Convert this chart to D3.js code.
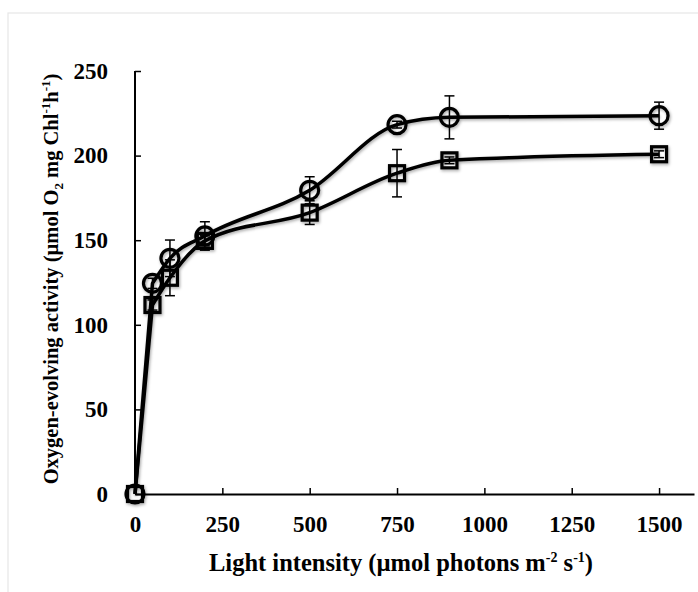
<!DOCTYPE html>
<html><head><meta charset="utf-8">
<script src="https://cdn.jsdelivr.net/npm/d3@7"></script>
<style>body{margin:0;background:#fff}svg{display:block}</style>
</head><body>
<svg id="chart" width="698" height="592"></svg>
<script>
const xValues = [0, 50, 100, 200, 500, 750, 900, 1500];
const circleValues = [0, 124.5, 139.3, 152.5, 179.5, 218.3, 222.6, 223.6];
const circleErrors = [0, 3, 10.8, 8.4, 8, 2, 12.7, 8];
const squareValues = [0, 111.7, 127.8, 149.6, 166.3, 189.6, 197.2, 200.8];
const squareErrors = [0, 3, 10.6, 3, 7, 14, 2, 2];
const xTicks = [0, 250, 500, 750, 1000, 1250, 1500];
const yTicks = [0, 50, 100, 150, 200, 250];

const svg = d3.select("#chart");
const font = "'Liberation Serif','Times New Roman',serif";

svg.append("rect").attr("x", 8).attr("y", 13).attr("width", 720).attr("height", 600)
  .attr("fill", "#fff").attr("stroke", "#e6e6e6").attr("stroke-width", 1.2);

const defs = svg.append("defs");
const f = defs.append("filter").attr("id", "sh").attr("x", "-20%").attr("y", "-20%").attr("width", "140%").attr("height", "140%");
f.append("feDropShadow").attr("dx", 1).attr("dy", 1.5).attr("stdDeviation", 1.5).attr("flood-color", "#000").attr("flood-opacity", 0.35);

const x = d3.scaleLinear().domain([0, 1600]).range([135, 694]);
const y = d3.scaleLinear().domain([0, 250]).range([494, 71]);

// axes
const gx = svg.append("g").attr("transform", `translate(0,${y(0)})`)
  .call(d3.axisBottom(x).tickValues(xTicks).tickFormat(d3.format("d")).tickSize(-6).tickPadding(22).tickSizeOuter(0));
const gy = svg.append("g").attr("transform", `translate(${x(0)},0)`)
  .call(d3.axisLeft(y).tickValues(yTicks).tickFormat(d3.format("d")).tickSize(-6).tickPadding(27).tickSizeOuter(0));
[gx, gy].forEach(g => {
  g.select(".domain").attr("stroke", "#000").attr("stroke-width", 2);
  g.selectAll(".tick line").attr("stroke", "#000").attr("stroke-width", 1.5);
  g.selectAll(".tick text").attr("font-family", font).attr("font-weight", "bold")
    .attr("font-size", 23).attr("fill", "#000");
});
gy.select(".domain").attr("d", `M0,${y(250)}V${y(0)}`);

// titles
const xt = svg.append("text").attr("x", 401).attr("y", 571).attr("text-anchor", "middle")
  .attr("font-family", font).attr("font-weight", "bold").attr("font-size", 24.5).attr("fill", "#000");
xt.append("tspan").text("Light intensity (µmol photons m");
xt.append("tspan").attr("font-size", 14).attr("dy", -9).text("-2");
xt.append("tspan").attr("dy", 9).text(" s");
xt.append("tspan").attr("font-size", 14).attr("dy", -9).text("-1");
xt.append("tspan").attr("dy", 9).text(")");

const yt = svg.append("text").attr("transform", "translate(58,279) rotate(-90)").attr("text-anchor", "middle")
  .attr("font-family", font).attr("font-weight", "bold").attr("font-size", 20.5).attr("fill", "#000");
yt.append("tspan").text("Oxygen-evolving activity (µmol O");
yt.append("tspan").attr("font-size", 13).attr("dy", 5).text("2");
yt.append("tspan").attr("dy", -5).text(" mg Chl");
yt.append("tspan").attr("font-size", 13).attr("dy", -8).text("-1");
yt.append("tspan").attr("dy", 8).text("h");
yt.append("tspan").attr("font-size", 13).attr("dy", -8).text("-1");
yt.append("tspan").attr("dy", 8).text(")");

const lineStraight = d3.line().x(d => x(d[0])).y(d => y(d[1]));
const lineSmooth = d3.line().x(d => x(d[0])).y(d => y(d[1])).curve(d3.curveMonotoneX);
const series = [
  {vals: circleValues, errs: circleErrors, type: "circle"},
  {vals: squareValues, errs: squareErrors, type: "square"}
];
const plot = svg.append("g").attr("filter", "url(#sh)");
series.forEach(s => {
  const pts = xValues.map((xv, i) => [xv, s.vals[i]]);
  const d = lineStraight(pts.slice(0, 2)) + lineSmooth(pts.slice(1)).replace(/^M/, "L");
  plot.append("path").attr("d", d).attr("fill", "none").attr("stroke", "#000")
    .attr("stroke-width", 3.5).attr("stroke-linejoin", "round");
  const g = plot.append("g");
  pts.forEach((p, i) => {
    if (s.type === "circle") {
      g.append("circle").attr("cx", x(p[0])).attr("cy", y(p[1])).attr("r", 9)
        .attr("fill", "none").attr("stroke", "#000").attr("stroke-width", 3.2);
    } else {
      g.append("rect").attr("x", x(p[0]) - 7.5).attr("y", y(p[1]) - 7.5).attr("width", 15).attr("height", 15)
        .attr("fill", "none").attr("stroke", "#000").attr("stroke-width", 3.2);
    }
  });
  const eb = svg.append("g");
  pts.forEach((p, i) => {
    const e = s.errs[i];
    if (!e) return;
    const cx = x(p[0]), y1 = y(p[1] + e), y2 = y(p[1] - e);
    eb.append("line").attr("x1", cx).attr("x2", cx).attr("y1", y1).attr("y2", y2).attr("stroke", "#000").attr("stroke-width", 1.5);
    [y1, y2].forEach(yy => eb.append("line").attr("x1", cx - 5).attr("x2", cx + 5).attr("y1", yy).attr("y2", yy).attr("stroke", "#000").attr("stroke-width", 1.5));
  });
});
</script>
</body></html>
